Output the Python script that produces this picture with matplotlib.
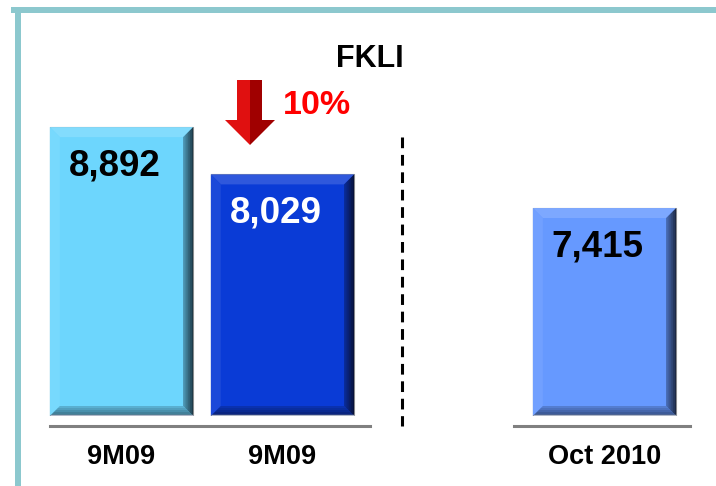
import matplotlib
matplotlib.use("Agg")
import matplotlib.pyplot as plt
import numpy as np
from matplotlib.patches import Polygon, Rectangle
from matplotlib.colors import to_rgb
import matplotlib.transforms as mtransforms

plt.rcParams['font.family'] = ['Liberation Sans', 'DejaVu Sans']

# data
labels = ['9M09', '9M09', 'Oct 2010']
values = [8892, 8029, 7415]
value_text = ['8,892', '8,029', '7,415']
text_colors = ['black', 'white', 'black']
positions = [0, 1, 3]
title = 'FKLI'
change = '10%'

bar_colors = ['#6DD6FD', '#0A3BD6', '#6699FF']
dark_colors = ['#1E3A48', '#08123A', '#1C2844']

W, H = 716, 486
fig = plt.figure(figsize=(W / 100, H / 100), dpi=100)

# pixel helpers (image coordinates: y measured from the top)
def fx(px):
    return px / W

def fy(py):
    return 1 - py / H

# chart area: baseline at image y=416, truncated value axis
px_per_unit = 0.0548
ybase = 3620
ax = fig.add_axes([0, fy(416), 1, 416 / H])
ax.set_ylim(ybase, ybase + 416 / px_per_unit)
ax.set_xlim(-121.5 / 161, (W - 121.5) / 161)
ax.axis('off')

width = 0.89
bx = 10 / 161
by = 10 / px_per_unit


def mix(c1, c2, t):
    a = np.array(to_rgb(c1))
    b = np.array(to_rgb(c2))
    return tuple(a + (b - a) * t)


bars = ax.bar(positions, [v - ybase for v in values], bottom=ybase, width=width,
              color=bar_colors, edgecolor='#9A9A9A', linewidth=0.8)

for bar, col, dk in zip(bars, bar_colors, dark_colors):
    x0, y0 = bar.get_x(), bar.get_y()
    x1, y1 = x0 + bar.get_width(), y0 + bar.get_height()
    # top bevel
    ax.add_patch(Polygon([(x0, y1), (x1, y1), (x1 - bx, y1 - by), (x0 + bx, y1 - by)],
                         closed=True, color=mix(col, 'white', 0.15), lw=0))
    # left bevel
    ax.add_patch(Polygon([(x0, y0), (x0, y1), (x0 + bx, y1 - by), (x0 + bx, y0 + by)],
                         closed=True, color=mix(col, 'white', 0.07), lw=0))
    # bottom bevel, graded
    n = 5
    for i in range(n):
        t0, t1 = i / n, (i + 1) / n
        ax.add_patch(Polygon([(x0 + bx * (1 - t0), y0 + by * (1 - t0)),
                              (x1 - bx * (1 - t0), y0 + by * (1 - t0)),
                              (x1 - bx * (1 - t1), y0 + by * (1 - t1)),
                              (x0 + bx * (1 - t1), y0 + by * (1 - t1))],
                             closed=True, color=mix(col, dk, 0.15 + 0.5 * t1), lw=0))
    # right bevel, graded
    for i in range(n):
        t0, t1 = i / n, (i + 1) / n
        ax.add_patch(Polygon([(x1 - bx * (1 - t0), y0 + by * (1 - t0)),
                              (x1 - bx * (1 - t0), y1 - by * (1 - t0)),
                              (x1 - bx * (1 - t1), y1 - by * (1 - t1)),
                              (x1 - bx * (1 - t1), y0 + by * (1 - t1))],
                             closed=True, color=mix(col, dk, 0.3 + 0.7 * t1), lw=0))
    ax.plot([x0, x1], [y0 + by * 0.1, y0 + by * 0.1], color='#B0B8C8', lw=1, solid_capstyle='butt')

for pos, v, s, tc in zip(positions, values, value_text, text_colors):
    ax.annotate(s, (pos, v), xytext=(-5, -28), textcoords='offset points',
                ha='center', va='center', fontsize=26.5, fontweight='bold', color=tc)

# category labels
blend = mtransforms.blended_transform_factory(ax.transData, fig.transFigure)
for pos, lab in zip(positions, labels):
    ax.text(pos, fy(457), lab, transform=blend, ha='center', va='center',
            fontsize=19.5, fontweight='bold', color='black')

# baseline segments
ax.plot([-0.444, 1.543], [fy(426)] * 2, transform=blend, color='#808080', lw=2.2, clip_on=False)
ax.plot([2.438, 3.531], [fy(426)] * 2, transform=blend, color='#808080', lw=2.2, clip_on=False)

# divider
ax.plot([1.742, 1.742], [fy(137), fy(426)], transform=blend, color='black', lw=2.2,
        dashes=(3.5, 2.2), clip_on=False)

# title and change marker
fig.text(fx(370), fy(59), title, ha='center', va='center', fontsize=22, fontweight='bold')
fig.text(fx(317), fy(106), change, ha='center', va='center', fontsize=24.5,
         fontweight='bold', color='#FF0000')

arrow_l = [(237, 80), (250, 80), (250, 145), (225, 120), (237, 120)]
arrow_r = [(250, 80), (262, 80), (262, 120), (275, 120), (250, 145)]
fig.patches.append(Polygon([(fx(a), fy(b)) for a, b in arrow_l], closed=True,
                           transform=fig.transFigure, color='#E01010', lw=0))
fig.patches.append(Polygon([(fx(a), fy(b)) for a, b in arrow_r], closed=True,
                           transform=fig.transFigure, color='#A00000', lw=0))

# frame lines
fig.patches.append(Rectangle((fx(11), fy(13)), fx(716 - 11), 6 / H, transform=fig.transFigure,
                             color='#8CC8CE', lw=0))
fig.patches.append(Rectangle((fx(15), 0), fx(6), fy(7), transform=fig.transFigure,
                             color='#8CC8CE', lw=0))

fig.savefig('out.png', dpi=100)
